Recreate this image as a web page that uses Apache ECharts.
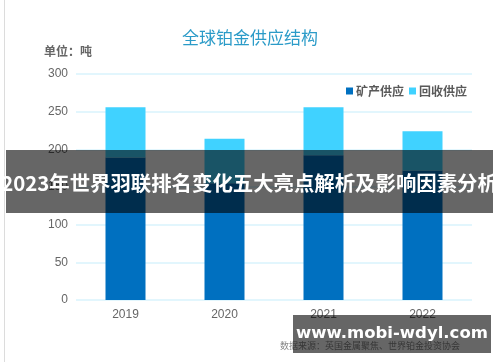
<!DOCTYPE html>
<html><head><meta charset="utf-8">
<script src="https://cdn.jsdelivr.net/npm/echarts@6/dist/echarts.min.js"></script>
<style>html,body{margin:0;padding:0;background:#fff}#c{width:500px;height:362px}</style>
</head><body><div id="c"></div>
<script>
const categories = ['2019', '2020', '2021', '2022'];
const mineSupply = [189, 155, 192, 172];
const recycleSupply = [67, 59, 64, 52];
const yTicks = [0, 50, 100, 150, 200, 250, 300];
const seriesNames = ['矿产供应', '回收供应'];
const titleText = '全球铂金供应结构';
const unitText = '单位：吨';
const sourceText = '数据来源：英国金属聚焦、世界铂金投资协会';
const bannerText = '2023年世界羽联排名变化五大亮点解析及影响因素分析';
const watermarkText = 'www.mobi-wdyl.com';

const chart = echarts.init(document.getElementById('c'));
const font = '"Noto Sans CJK SC", "Noto Sans", sans-serif';
chart.setOption({
  animation: false,
  title: { text: titleText, left: 'center', top: 24, textStyle: { color: '#2b9bc8', fontSize: 17, fontWeight: 'normal', fontFamily: font } },
  legend: {
    left: 341, top: 80, itemWidth: 7, itemHeight: 7, itemGap: 5, icon: 'rect',
    textStyle: { color: '#595959', fontSize: 12, fontWeight: 'bold', fontFamily: font, padding: [0, 0, 0, -2] },
    data: seriesNames
  },
  grid: { left: 76, right: 28, top: 74, bottom: 62 },
  xAxis: {
    type: 'category', data: categories,
    axisLine: { show: false }, axisTick: { show: false },
    axisLabel: { color: '#666', fontSize: 12, margin: 9, fontFamily: 'Liberation Sans, Arial, sans-serif' }
  },
  yAxis: {
    type: 'value', min: yTicks[0], max: yTicks[yTicks.length - 1], interval: 50,
    splitLine: { lineStyle: { color: '#d9f3fd', width: 1.5 } },
    axisLabel: { color: '#666', fontSize: 12, margin: 8, fontFamily: 'Liberation Sans, Arial, sans-serif' }
  },
  series: [
    { name: seriesNames[0], type: 'bar', stack: 's', barWidth: 40, data: mineSupply, itemStyle: { color: '#0070c0' } },
    { name: seriesNames[1], type: 'bar', stack: 's', barWidth: 40, data: recycleSupply, itemStyle: { color: '#40d2ff' } }
  ],
  graphic: [
    { type: 'line', shape: { x1: 4.5, y1: 0, x2: 4.5, y2: 362 }, style: { stroke: '#dcdcdc', lineWidth: 1 }, z: 1 },
    { type: 'text', left: 44, top: 45, style: { text: unitText, fill: '#666', font: 'bold 12px ' + font }, z: 10 },
    { type: 'text', left: 280, top: 341, style: { text: sourceText, fill: '#888', font: '9px ' + font }, z: 10 },
    { type: 'rect', shape: { x: 6, y: 150, width: 487, height: 63 }, style: { fill: 'rgba(0,0,0,0.6)' }, z: 100 },
    { type: 'text', x: 249.5, y: 183, style: { text: bannerText, fill: '#fff', font: 'bold 20.4px ' + font, align: 'center', verticalAlign: 'middle' }, z: 101 },
    { type: 'rect', shape: { x: 293, y: 315, width: 198, height: 38 }, style: { fill: 'rgba(0,0,0,0.6)' }, z: 100 },
    { type: 'text', x: 392, y: 334, style: { text: watermarkText, fill: '#fff', font: 'bold 16.5px "DejaVu Sans", sans-serif', align: 'center', verticalAlign: 'middle' }, z: 101 }
  ]
});
</script></body></html>
